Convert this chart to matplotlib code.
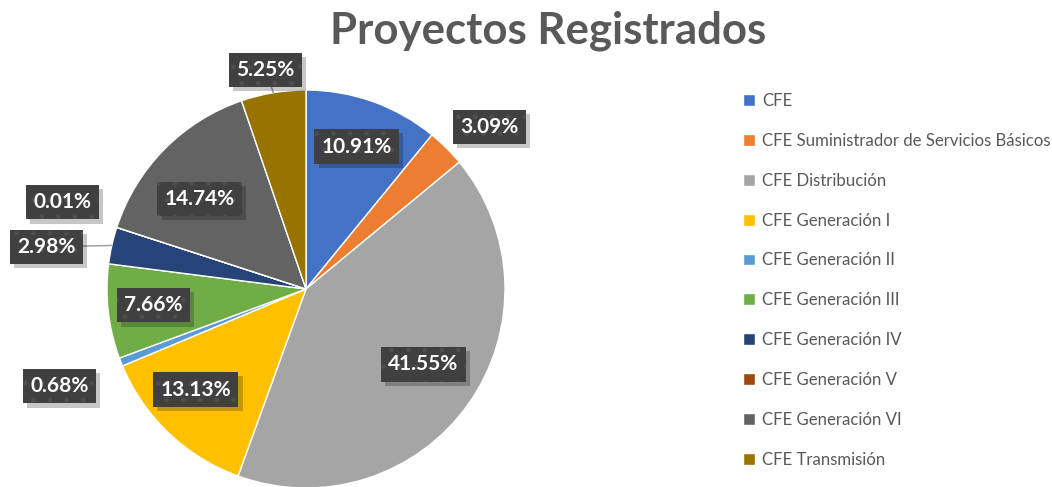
import numpy as np
import matplotlib.pyplot as plt
import matplotlib.patheffects as pe

# shares of registered projects (%)
names = ['CFE', 'CFE Suministrador de Servicios Básicos', 'CFE Distribución',
         'CFE Generación I', 'CFE Generación II', 'CFE Generación III',
         'CFE Generación IV', 'CFE Generación V', 'CFE Generación VI',
         'CFE Transmisión']
shares = [10.91, 3.09, 41.55, 13.13, 0.68, 7.66, 2.98, 0.01, 14.74, 5.25]
colors = ['#4472C4', '#ED7D31', '#A5A5A5', '#FFC000', '#5B9BD5',
          '#70AD47', '#264478', '#9E480E', '#636363', '#997300']

# where each label sits: radius (fraction of pie radius) and angle nudge (deg)
lab_r = [0.76, 1.23, 0.70, 0.75, 1.33, 0.77, 1.32, 1.30, 0.70, 1.12]
lab_nudge = [0, -3.7, 2.5, -4, 0, -0.5, 3.4, -1.6, 4.3, 1]
leader = [False, False, False, False, False, False, True, False, False, True]

plt.rcParams['font.family'] = ['Lato', 'DejaVu Sans']

W, H = 1052, 487
fig = plt.figure(figsize=(W / 100, H / 100), dpi=100)
ax = fig.add_axes([0, 0, 1, 1])

cx, cy, R = 306, 198, 199
wedges, _ = ax.pie(shares, colors=colors, startangle=90, counterclock=False,
                   center=(cx, cy), radius=R,
                   wedgeprops=dict(edgecolor='white', linewidth=1))
ax.set_xlim(0, W)
ax.set_ylim(0, H)
ax.set_aspect('equal')
ax.axis('off')

# drop shadow under the label boxes, without the dotted hatch
shadow = [pe.withSimplePatchShadow(offset=(3, -3), shadow_rgbFace='black',
                                   alpha=0.22, hatch=None)]
for w, v, r, nd, ld in zip(wedges, shares, lab_r, lab_nudge, leader):
    mid = np.deg2rad((w.theta1 + w.theta2) / 2)
    ang = mid + np.deg2rad(nd)
    x = cx + r * R * np.cos(ang)
    y = cy + r * R * np.sin(ang)
    if ld:
        ex, ey = cx + R * np.cos(mid), cy + R * np.sin(mid)
        ax.plot([x, ex], [y, ey], color='#A6A6A6', lw=1.2, zorder=3)
    ax.text(x, y, f'{v:.2f}%', ha='center', va='center', color='white',
            fontsize=15, fontweight='bold', zorder=5,
            bbox=dict(boxstyle='square,pad=0.35', facecolor='#404040',
                      edgecolor='#4e4e4e', linewidth=0, hatch='.',
                      path_effects=shadow))

fig.text(0.521, 0.937, 'Proyectos Registrados', ha='center', va='center',
         fontsize=31.5, fontweight='bold', color='#595959')

leg = ax.legend(wedges, names, loc='upper left', bbox_to_anchor=(0.700, 0.823),
                frameon=False, fontsize=12.1, labelcolor='#595959',
                handlelength=0.72, handleheight=0.72, handletextpad=0.4,
                labelspacing=1.42, borderaxespad=0)

fig.savefig('out.png', dpi=100)
